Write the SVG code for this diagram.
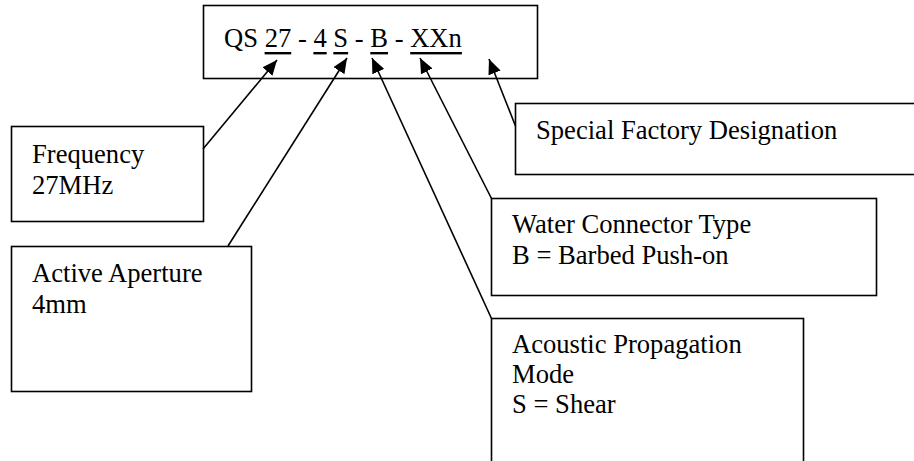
<svg xmlns="http://www.w3.org/2000/svg" width="914" height="461" viewBox="0 0 914 461">
  <style>
    .box { fill: #ffffff; stroke: #000000; stroke-width: 1.6; }
    .lbl { font-family: "Liberation Serif", "Times New Roman", serif; font-size: 26.6px; fill: #000000; }
    .ul { fill: #000000; }
    .conn { stroke: #000000; stroke-width: 1.6; fill: none; marker-end: url(#arrow); }
  </style>
  <defs>
    <marker id="arrow" viewBox="0 0 15 13" refX="15" refY="6.5" markerWidth="15" markerHeight="13" markerUnits="userSpaceOnUse" orient="auto">
      <path d="M0,0 L15,6.5 L0,13 z" fill="#000000"/>
    </marker>
  </defs>
  <rect width="914" height="461" fill="#ffffff"/>

  <g id="model-code">
    <rect class="box" x="203.5" y="5.5" width="334" height="73"/>
    <text class="lbl" x="224" y="47">QS 27 - 4 S - B - XXn</text>
    <rect class="ul" x="264.6" y="52" width="26.6" height="2.4"/>
    <rect class="ul" x="313.4" y="52" width="13.3" height="2.4"/>
    <rect class="ul" x="333.3" y="52" width="14.8" height="2.4"/>
    <rect class="ul" x="370.3" y="52" width="17.7" height="2.4"/>
    <rect class="ul" x="410.2" y="52" width="51.7" height="2.4"/>
  </g>

  <g id="frequency">
    <rect class="box" x="11.5" y="126.5" width="192" height="95"/>
    <text class="lbl" x="32" y="163">Frequency</text>
    <text class="lbl" x="32" y="194">27MHz</text>
  </g>

  <g id="active-aperture">
    <rect class="box" x="11.5" y="246.5" width="240" height="145"/>
    <text class="lbl" x="32" y="282">Active Aperture</text>
    <text class="lbl" x="32" y="313">4mm</text>
  </g>

  <g id="special-factory">
    <rect class="box" x="515.5" y="103.5" width="410" height="71"/>
    <text class="lbl" x="536" y="139">Special Factory Designation</text>
  </g>

  <g id="water-connector">
    <rect class="box" x="491.5" y="198.5" width="385" height="97"/>
    <text class="lbl" x="512" y="233">Water Connector Type</text>
    <text class="lbl" x="512" y="264">B = Barbed Push-on</text>
  </g>

  <g id="acoustic-mode">
    <rect class="box" x="491.5" y="318.5" width="312" height="160"/>
    <text class="lbl" x="512" y="353">Acoustic Propagation</text>
    <text class="lbl" x="512" y="383">Mode</text>
    <text class="lbl" x="512" y="413">S = Shear</text>
  </g>

  <g id="connectors">
    <line class="conn" x1="203" y1="149" x2="277" y2="60"/>
    <line class="conn" x1="228" y1="246" x2="347" y2="58"/>
    <line class="conn" x1="491.5" y1="318.5" x2="372" y2="58"/>
    <line class="conn" x1="491.5" y1="198.5" x2="420" y2="58"/>
    <line class="conn" x1="515.5" y1="126" x2="489" y2="59"/>
  </g>
</svg>
